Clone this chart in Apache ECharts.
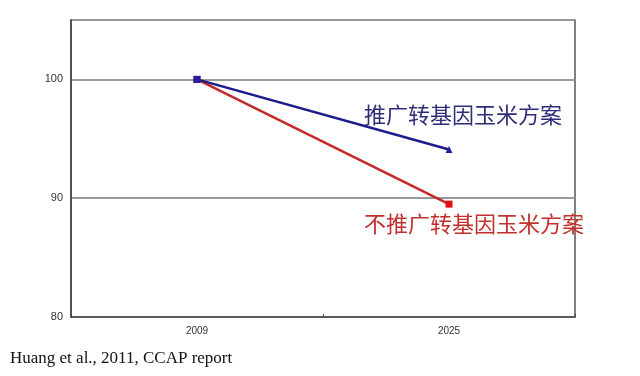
<!DOCTYPE html>
<html><head><meta charset="utf-8">
<script src="https://cdn.jsdelivr.net/npm/echarts@6/dist/echarts.min.js"></script>
<style>html,body{margin:0;padding:0;background:#fff}#c{width:640px;height:376px}</style>
</head><body><div id="c"></div>
<script>
const categories = ['2009', '2025'];
const withGM = [100, 94.1];
const withoutGM = [100, 89.5];
const yTicks = [80, 90, 100];
const labelWith = '推广转基因玉米方案';
const labelWithout = '不推广转基因玉米方案';
const source = 'Huang et al., 2011, CCAP report';

const chart = echarts.init(document.getElementById('c'));
chart.setOption({
  backgroundColor: '#fff',
  animation: false,
  grid: { left: 71, right: 65, top: 20, bottom: 59, show: true, borderColor: '#555', borderWidth: 1.5 },
  xAxis: {
    type: 'category', data: categories, boundaryGap: true,
    axisLine: { lineStyle: { color: '#444', width: 1.5 } },
    axisTick: { show: true, inside: true, length: 3, lineStyle: { color: '#444' } },
    axisLabel: { color: '#333', fontSize: 10, fontFamily: 'Arial, Liberation Sans', margin: 9 }
  },
  yAxis: {
    type: 'value', min: 80, max: 105, interval: 10,
    axisLine: { show: true, lineStyle: { color: '#444', width: 1.5 } },
    axisTick: { show: false },
    axisLabel: { color: '#333', fontSize: 11, fontFamily: 'Arial, Liberation Sans', margin: 8,
      showMaxLabel: false,
      formatter: v => yTicks.includes(v) ? String(v) : '' },
    splitLine: { show: true, lineStyle: { color: '#999', width: 2 } }
  },
  series: [
    { name: labelWithout, type: 'line', data: withoutGM, symbol: 'rect', symbolSize: 7,
      lineStyle: { color: '#c42a2a', width: 2.5 }, itemStyle: { color: '#e01010' } },
    { name: labelWith, type: 'line', data: withGM,
      symbol: (v, p) => p.dataIndex === 0 ? 'rect' : 'triangle', symbolSize: 7,
      lineStyle: { color: '#1c1c8a', width: 2.5 }, itemStyle: { color: '#2020a0' } }
  ],
  graphic: [
    { type: 'text', left: 364, top: 104, style: { text: labelWith, fill: '#2e2e78', fontSize: 22, fontFamily: 'Noto Sans CJK SC' } },
    { type: 'text', left: 364, top: 213, style: { text: labelWithout, fill: '#c0302c', fontSize: 22, fontFamily: 'Noto Sans CJK SC' } },
    { type: 'text', left: 10, top: 350, style: { text: source, fill: '#111', fontSize: 17, fontFamily: 'Liberation Serif' } }
  ]
});
</script></body></html>
